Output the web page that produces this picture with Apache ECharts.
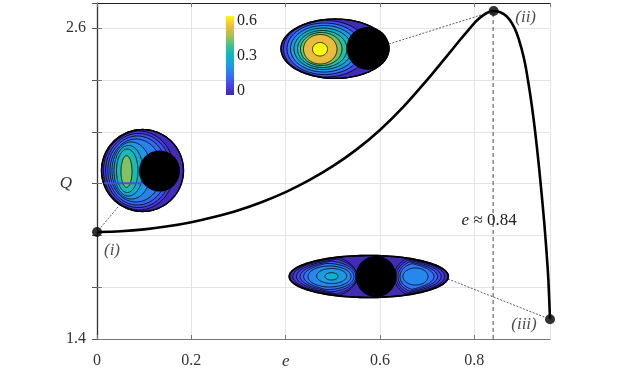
<!DOCTYPE html>
<html><head><meta charset="utf-8">
<script src="https://cdn.jsdelivr.net/npm/echarts@6/dist/echarts.min.js"></script>
<style>html,body{margin:0;padding:0;background:#fff}#c{width:622px;height:375px}</style>
</head><body><div id="c"></div>
<script>
// ---- data ----
const eValues = [0, 0.05, 0.1, 0.15, 0.2, 0.25, 0.3, 0.35, 0.4, 0.45, 0.5, 0.55, 0.6, 0.65, 0.7, 0.74, 0.77, 0.79, 0.8, 0.81, 0.82, 0.83, 0.841,
  0.855, 0.869, 0.88, 0.89, 0.9, 0.908, 0.915, 0.922, 0.929, 0.936, 0.942, 0.948, 0.953, 0.957, 0.9605];
const qValues = [1.813, 1.816, 1.823, 1.835, 1.851, 1.872, 1.897, 1.929, 1.967, 2.013, 2.067, 2.131, 2.207, 2.297, 2.4, 2.488, 2.555, 2.598, 2.619, 2.637, 2.651, 2.661, 2.666,
  2.661, 2.645, 2.618, 2.58, 2.522, 2.46, 2.385, 2.3, 2.2, 2.085, 1.975, 1.855, 1.74, 1.63, 1.476];
const pointE = [0, 0.841, 0.9605];
const pointQ = [1.813, 2.666, 1.476];
const pointLabels = ['(i)', '(ii)', '(iii)'];
const eCrit = 0.84;
const xTickLabels = {'0': '0', '0.2': '0.2', '0.4': '{it|e}', '0.6': '0.6', '0.8': '0.8'};
const yTickLabels = {'1.4': '1.4', '2': '{q|Q}', '2.6': '2.6'};
const colorbarTicks = ['0.6', '0.3', '0'];

// ---- styles ----
const FONT = 'Liberation Serif';
const labelOffsets = [[15, 19], [32, 7], [-26, 5]];
const parulaStops = ['#3e26a8','#4744e8','#3173f8','#1e9be0','#0bb6c7','#3fc28e','#a5c24f','#f4bb3a','#f9fb0e'];
function hex(c){return [parseInt(c.substr(1,2),16),parseInt(c.substr(3,2),16),parseInt(c.substr(5,2),16)];}
function parula(t){
  t=Math.max(0,Math.min(1,t));
  const p=t*(parulaStops.length-1), i=Math.min(Math.floor(p),parulaStops.length-2), f=p-i;
  const a=hex(parulaStops[i]), b=hex(parulaStops[i+1]);
  return 'rgb('+a.map((v,k)=>Math.round(v+(b[k]-v)*f)).join(',')+')';
}
function lvl(v){return parula((v+0.015)/0.6);}
function ellPts(b){const cx=(b[0]+b[1])/2,cy=(b[2]+b[3])/2,rx=(b[1]-b[0])/2,ry=(b[3]-b[2])/2;const pts=[];
  for(let k=0;k<120;k++){const a=k/120*Math.PI*2;pts.push([cx+rx*Math.cos(a),cy+ry*Math.sin(a)]);}return pts;}
function clip(pts,o,k){const cx=(o[0]+o[1])/2,cy=(o[2]+o[3])/2,rx=(o[1]-o[0])/2,ry=(o[3]-o[2])/2;
  return pts.map(p=>{const dx=(p[0]-cx)/rx,dy=(p[1]-cy)/ry,f=Math.sqrt(dx*dx+dy*dy);
    if(f>k){const s=k/f;return [cx+(p[0]-cx)*s,cy+(p[1]-cy)*s];}return p;});}
function poly(pts,fill,lw){return {type:'polygon',z:50,shape:{points:pts},style:{fill:fill,stroke:'#000',lineWidth:lw}};}
function rings(list,outer,gap){return list.map((r,i)=>poly(clip(ellPts(r.slice(1)),outer,1-gap*(i+1)),lvl(r[0]),0.8));}
function disk(cx,cy,r){return {type:'circle',z:51,shape:{cx:cx,cy:cy,r:r},style:{fill:'#000'}};}

const chart = echarts.init(document.getElementById('c'));
const axisFont = {fontFamily: FONT, fontSize: 16, color: '#333', rich: {
  it: {fontFamily: FONT, fontStyle: 'italic', fontSize: 17, color: '#333'},
  q: {fontFamily: FONT, fontStyle: 'italic', fontSize: 17, color: '#333', padding: [0, 14, 0, 0]}}};
function key(v){return String(Math.round(v*10)/10);}
chart.setOption({
  animation:false,
  grid:{left:97,right:72,top:3,bottom:36},
  xAxis:[{type:'value',min:0,max:0.9605,interval:0.2,position:'bottom',
    axisLine:{lineStyle:{color:'#777',width:1.2}},
    axisTick:{inside:true,length:4,lineStyle:{color:'#777'}},
    splitLine:{show:true,lineStyle:{color:'#e4e4e4',width:1}},
    axisLabel:Object.assign({margin:14,formatter:v=>xTickLabels[key(v)]||'',showMaxLabel:false},axisFont)},
   {type:'value',min:0,max:0.9605,interval:0.2,position:'top',
    axisLine:{lineStyle:{color:'#222',width:1.2}},
    axisTick:{inside:true,length:4,lineStyle:{color:'#777'}},
    splitLine:{show:false},axisLabel:{show:false}}],
  yAxis:[{type:'value',min:1.4,max:2.697,interval:0.2,position:'left',
    axisLine:{show:true,lineStyle:{color:'#777',width:1.2}},
    axisTick:{show:true,inside:true,length:5,lineStyle:{color:'#777'}},
    splitLine:{show:true,lineStyle:{color:'#e4e4e4',width:1}},
    axisLabel:Object.assign({margin:11,formatter:v=>yTickLabels[key(v)]||'',showMaxLabel:false},axisFont)},
   {type:'value',min:1.4,max:2.697,interval:0.2,position:'right',
    axisLine:{show:true,lineStyle:{color:'#333',width:1.2}},
    axisTick:{show:true,inside:true,length:5,lineStyle:{color:'#555'}},
    splitLine:{show:false},axisLabel:{show:false}}],
  series:[
    {type:'line',data:[[eCrit,1.4],[eCrit,pointQ[1]]],showSymbol:false,z:3,
      lineStyle:{color:'#888',width:1.5,type:[4,3]}},
    {type:'line',data:eValues.map((e,i)=>[e,qValues[i]]),showSymbol:false,smooth:0.3,z:4,
      lineStyle:{color:'#000',width:2.6}},
    {type:'scatter',data:pointE.map((e,i)=>({value:[e,pointQ[i]],label:{offset:labelOffsets[i]}})),
      symbolSize:10,clip:false,z:6,itemStyle:{color:'#000'},
      label:{show:true,position:'inside',fontFamily:FONT,fontStyle:'italic',fontSize:17,color:'#222',
        formatter:p=>pointLabels[p.dataIndex]}}
  ]
});

const P = (e,q)=>chart.convertToPixel({xAxisIndex:0,yAxisIndex:0},[e,q]);
const p0=P(pointE[0],pointQ[0]), p1=P(pointE[1],pointQ[1]), p2=P(pointE[2],pointQ[2]);
const ann=P(eCrit,1.859);
const els=[];
function conn(a,b){return {type:'line',z:40,shape:{x1:a[0],y1:a[1],x2:b[0],y2:b[1]},style:{stroke:'#333',lineWidth:0.8,lineDash:[2,1.5]}};}
els.push(conn([118,207],p0), conn([389,44],p1), conn([448,279],p2));
// inset (i): circle  [level, left, right, top, bottom]
const circOuter=[101.5,183.5,129.5,211.5];
els.push(poly(ellPts(circOuter),lvl(0),1.3));
els.push(...rings([[0.04,103.5,174,131,210],[0.08,105.7,171,133.5,207.5],[0.12,107.9,167,136,205],
  [0.16,110,162,139,202],[0.2,112,151,142,199],[0.25,114,143,145.5,196],[0.31,116.5,138,149,192.5],[0.41,121,132,155.7,187.3]],circOuter,0.03));
els.push({type:'rect',z:50,shape:{x:103,y:182.3,width:42,height:2},style:{fill:'#4450dc'}});
els.push(poly(ellPts(circOuter),'none',1.3));
els.push(disk(159.5,171,20.5));
// inset (ii): top ellipse
const topOuter=[281,389,19,78.4];
els.push(poly(ellPts(topOuter),lvl(0),1.3));
els.push(...rings([[0.07,283.5,368,20.5,77],[0.14,287,362,23,74.5],[0.21,290.5,357,25.5,72],[0.27,294,352,28,69.5],
  [0.33,297.5,347,30.5,67.5],[0.4,300.5,342,32.5,65.5],[0.5,303.5,337,34.5,64],[0.59,312.5,327.5,42.5,56]],topOuter,0.025));
els.push(poly(ellPts(topOuter),'none',1.3));
els.push(disk(368,48.3,21.5));
// inset (iii): bottom ellipse
const botOuter=[289.3,448.3,255.5,297.5];
els.push(poly(ellPts(botOuter),lvl(0),1.6));
els.push(...rings([[0.035,287,357,255,298],[0.07,292,357,258,295],[0.105,297,356,261,292],[0.14,302,354,263.5,289.5],
  [0.175,308,351,266,287],[0.21,316.7,346.7,268.5,283.5],[0.27,325,338,272.7,280]],botOuter,0.045));
els.push(...rings([[0.035,394,452,255,298],[0.07,396,447,257.5,295.5],[0.105,398,441,260,293],[0.14,400,435,263,290],
  [0.175,403,428,268,285]],botOuter,0.045));
els.push(poly(ellPts(botOuter),'none',1.6));
els.push(disk(376,276.5,20.5));
// colorbar
els.push({type:'rect',z:50,shape:{x:226,y:16,width:8,height:79},
  style:{fill:new echarts.graphic.LinearGradient(0,0,0,1,parulaStops.slice().reverse().map((c,i,a)=>({offset:i/(a.length-1),color:c})))}});
colorbarTicks.forEach((t,i)=>els.push({type:'text',z:50,x:237,y:20.5+i*35.3,
  style:{text:t,fontFamily:FONT,fontSize:16,fill:'#222',textVerticalAlign:'middle',textAlign:'left'}}));
// annotation
els.push({type:'text',z:50,x:ann[0]-4,y:ann[1],style:{text:'{i|e} ≈ 0.84',fontFamily:FONT,fontSize:17,fill:'#222',
  textAlign:'center',textVerticalAlign:'middle',rich:{i:{fontStyle:'italic',fontFamily:FONT,fontSize:17,fill:'#222'}}}});
chart.setOption({graphic:{elements:els}});
</script></body></html>
